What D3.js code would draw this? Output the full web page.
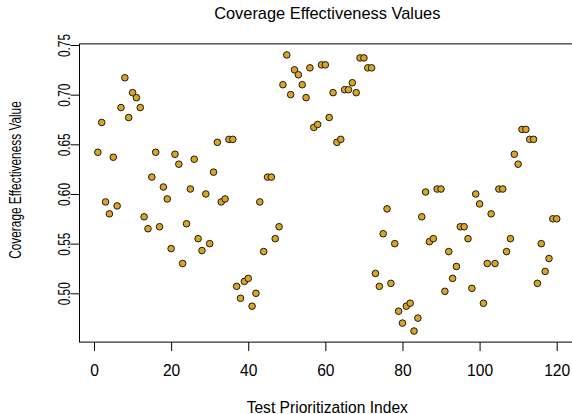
<!DOCTYPE html>
<html>
<head>
<meta charset="utf-8">
<script src="https://cdn.jsdelivr.net/npm/d3@7"></script>
<style>
  body { margin: 0; background: #fff; }
  svg text { font-family: "Liberation Sans", Arial, Helvetica, sans-serif; fill: #000; }
</style>
</head>
<body>
<div id="chart"></div>
<script>
// coverage effectiveness value for each test prioritization index (1..120)
const indices = d3.range(1, 121);
const values = [
  0.642, 0.672, 0.592, 0.580, 0.637, 0.588, 0.687, 0.717, 0.677, 0.702,
  0.697, 0.687, 0.577, 0.565, 0.617, 0.642, 0.567, 0.607, 0.595, 0.545,
  0.640, 0.630, 0.530, 0.570, 0.605, 0.635, 0.555, 0.543, 0.600, 0.550,
  0.622, 0.652, 0.592, 0.595, 0.655, 0.655, 0.507, 0.495, 0.512, 0.515,
  0.487, 0.500, 0.592, 0.542, 0.617, 0.617, 0.555, 0.567, 0.710, 0.740,
  0.700, 0.725, 0.720, 0.710, 0.697, 0.727, 0.667, 0.670, 0.730, 0.730,
  0.677, 0.702, 0.652, 0.655, 0.705, 0.705, 0.712, 0.702, 0.737, 0.737,
  0.727, 0.727, 0.520, 0.507, 0.560, 0.585, 0.510, 0.550, 0.482, 0.470,
  0.487, 0.490, 0.462, 0.475, 0.577, 0.602, 0.552, 0.555, 0.605, 0.605,
  0.502, 0.542, 0.515, 0.527, 0.567, 0.567, 0.555, 0.505, 0.600, 0.590,
  0.490, 0.530, 0.580, 0.530, 0.605, 0.605, 0.542, 0.555, 0.640, 0.630,
  0.665, 0.665, 0.655, 0.655, 0.510, 0.550, 0.522, 0.535, 0.575, 0.575
];
const xTicks = [0, 20, 40, 60, 80, 100, 120];
const yTicks = [0.50, 0.55, 0.60, 0.65, 0.70, 0.75];

const data = indices.map((d, i) => ({ index: d, value: values[i] }));

const width = 572;
const height = 414;
const fontSize = 15.6;
const vSquash = 0.76;   // upright text in the reference is shorter along its length

const svg = d3.select("#chart").append("svg")
    .attr("width", width)
    .attr("height", height);

// R style limits: data range padded by 4% on each side
const xExt = d3.extent(indices);
const yExt = d3.extent(values);
const xPad = (xExt[1] - xExt[0]) * 0.04;
const yPad = (yExt[1] - yExt[0]) * 0.04;

const x = d3.scaleLinear().domain([0, 120]).range([94, 556.7]);
const y = d3.scaleLinear().domain([0.50, 0.75]).range([293.3, 45]);

const boxLeft = x(xExt[0] - xPad);
const boxRight = x(xExt[1] + xPad);
const boxTop = y(yExt[1] + yPad);
const boxBottom = y(yExt[0] - yPad);

// box
svg.append("rect")
    .attr("x", boxLeft)
    .attr("y", boxTop)
    .attr("width", boxRight - boxLeft)
    .attr("height", boxBottom - boxTop)
    .attr("fill", "none")
    .attr("stroke", "#000")
    .attr("stroke-width", 1);

// x axis
const xAxis = svg.append("g")
    .attr("transform", `translate(0,${boxBottom})`)
    .call(d3.axisBottom(x).tickValues(xTicks).tickSize(9).tickFormat(d3.format("d")));
xAxis.select(".domain").remove();
xAxis.selectAll("text")
    .attr("y", 34)
    .attr("dy", null)
    .style("font-size", fontSize + "px");

// y axis, labels turned like R's default
const yAxis = svg.append("g")
    .attr("transform", `translate(${boxLeft},0)`)
    .call(d3.axisLeft(y).tickValues(yTicks).tickSize(9).tickFormat(d3.format(".2f")));
yAxis.select(".domain").remove();
yAxis.selectAll("text")
    .attr("x", 0)
    .attr("y", 0)
    .attr("dy", null)
    .attr("transform", `translate(-10,0) scale(1,${vSquash}) rotate(-90)`)
    .attr("text-anchor", "middle")
    .style("font-size", fontSize + "px");

// points
svg.selectAll("circle.pt")
    .data(data)
    .enter().append("circle")
    .attr("class", "pt")
    .attr("cx", d => x(d.index))
    .attr("cy", d => y(d.value))
    .attr("r", 3.3)
    .attr("fill", "#DAA520")
    .attr("stroke", "#1a1a1a")
    .attr("stroke-width", 1);

// title and axis labels
svg.append("text")
    .attr("x", (boxLeft + boxRight) / 2)
    .attr("y", 19)
    .attr("text-anchor", "middle")
    .style("font-size", "16.4px")
    .text("Coverage Effectiveness Values");

svg.append("text")
    .attr("x", (boxLeft + boxRight) / 2)
    .attr("y", 412.5)
    .attr("text-anchor", "middle")
    .style("font-size", fontSize + "px")
    .text("Test Prioritization Index");

svg.append("text")
    .attr("transform", `translate(21,180) scale(1,${vSquash}) rotate(-90)`)
    .attr("text-anchor", "middle")
    .style("font-size", fontSize + "px")
    .text("Coverage Effectiveness Value");
</script>
</body>
</html>
